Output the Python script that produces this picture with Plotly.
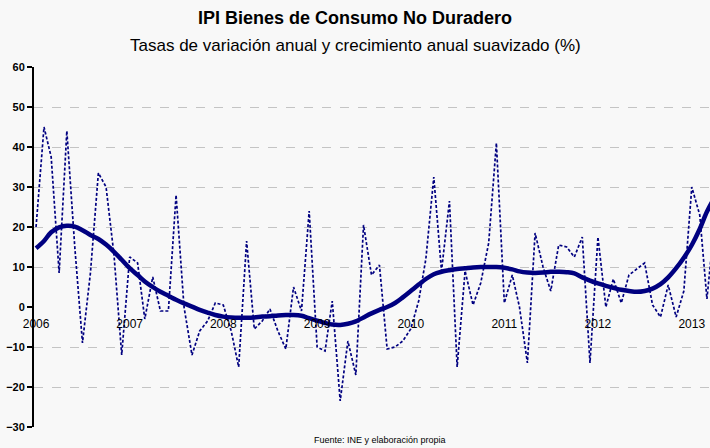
import pandas as pd
import plotly.graph_objects as go

# monthly series, Jan 2006 onwards
start = "2006-01-01"
tasa_anual = [
    20, 45, 37.5, 8.5, 44, 15, -9, 8.5, 33.5, 30, 13, -12,
    12.5, 11, -3, 7.5, -1, -1, 28, 0, -12, -6, -3.5, 1,
    0.5, -6, -15, 16.5, -5.5, -3.5, -0.5, -6, -10.5, 5, -1, 24,
    -10, -11, 1.5, -23.5, -8.5, -17, 20.5, 8, 10.5, -10.5, -10, -8.5,
    -5.5, 1.5, 12, 32.5, 9, 26.5, -15, 9, 0.5, 6, 16, 41,
    1, 8, 0, -14, 18.5, 10, 4, 15.5, 15, 12.5, 17.5, -14,
    17.5, 0, 7, 1, 8, 9.5, 11, 0.5, -2.5, 5.5, -2.5, 4,
    30, 23, 2, 22,
]
suavizado = [
    14.7, 16.5, 18.7, 19.9, 20.3, 20.1, 19.2, 18.0, 17.0, 15.6, 13.8, 11.8,
    9.7, 8.0, 6.4, 5.0, 3.8, 2.8, 1.8, 0.9, 0.1, -0.7, -1.4, -2.0,
    -2.4, -2.6, -2.7, -2.7, -2.6, -2.4, -2.3, -2.1, -2.0, -2.0, -2.2, -2.8,
    -3.4, -4.0, -4.4, -4.5, -4.2, -3.6, -2.6, -1.6, -0.7, 0.0, 1.0, 2.4,
    4.0, 5.6, 7.0, 8.2, 8.8, 9.2, 9.5, 9.7, 9.9, 10.0, 10.0, 10.0,
    9.8, 9.4, 8.9, 8.6, 8.5, 8.6, 8.8, 8.8, 8.7, 8.4, 7.4, 6.6,
    5.9, 5.3, 4.8, 4.3, 4.0, 3.8, 4.0, 4.6, 5.7, 7.4, 9.7, 12.3,
    15.5, 19.5, 23.8, 27.5,
]
y_ticks = [60, 50, 40, 30, 20, 10, 0, -10, -20, -30]
grid_vals = [v for v in y_ticks if v != 0]

fechas = pd.date_range(start, periods=len(tasa_anual), freq="MS")
x_range = ["2005-12-24", "2013-03-13"]
y_range = [-30, 60]
navy = "#000080"
bg = "#f8f8f8"

fig = go.Figure()
fig.add_trace(go.Scatter(
    x=fechas, y=tasa_anual, mode="lines",
    line=dict(color=navy, width=1.7, dash="3px,2px"),
))
fig.add_trace(go.Scatter(
    x=fechas, y=suavizado, mode="lines",
    line=dict(color=navy, width=4.5, shape="spline"),
))
# dummy trace so the grid axis is drawn
fig.add_trace(go.Scatter(x=[fechas[0]], y=[None], yaxis="y2", showlegend=False))

fig.update_layout(
    width=710, height=448,
    margin=dict(l=34, r=0, t=67, b=21),
    paper_bgcolor=bg, plot_bgcolor=bg,
    showlegend=False,
    font=dict(family="Liberation Sans, Arial, sans-serif", color="black"),
    xaxis=dict(
        range=x_range, type="date", dtick="M12", tickformat="%Y",
        anchor="free", position=(0 - y_range[0]) / (y_range[1] - y_range[0]),
        showgrid=False, showline=False, zeroline=False, ticks="",
        ticklabelstandoff=8,
        tickfont=dict(size=12, color="black"), automargin=False,
    ),
    yaxis=dict(
        range=y_range, tickvals=y_ticks, showgrid=False, zeroline=False,
        showline=True, linecolor="black", linewidth=2,
        ticks="outside", ticklen=5, tickcolor="black", tickwidth=2,
        tickfont=dict(size=11, color="black", weight="bold"),
        automargin=False,
    ),
    yaxis2=dict(
        range=y_range, tickvals=grid_vals, overlaying="y",
        showticklabels=False, showgrid=True, gridcolor="#c4c4c4",
        griddash="dash", gridwidth=1, zeroline=False, automargin=False,
    ),
)

# titles placed by pixel row from the top of the page
plot_h = 448 - 67 - 21
def paper_y(px_y):
    return 1 + (67 - px_y) / plot_h

title_x = (355 - 34) / (710 - 34)
fig.add_annotation(text="<b>IPI Bienes de Consumo No Duradero</b>",
                   x=title_x, y=paper_y(18), xref="paper", yref="paper",
                   showarrow=False, yanchor="middle", font=dict(size=18))
fig.add_annotation(text="Tasas de variación anual y crecimiento anual suavizado (%)",
                   x=title_x, y=paper_y(46), xref="paper", yref="paper",
                   showarrow=False, yanchor="middle", font=dict(size=17))
fig.add_annotation(text="Fuente: INE y elaboración propia",
                   x=(380 - 34) / (710 - 34), y=paper_y(440), xref="paper",
                   yref="paper", showarrow=False, yanchor="middle",
                   font=dict(size=9))

# drop the browser's default body margin so the figure fills the window
fig.write_html(
    "out.html",
    config={"displayModeBar": False},
    post_script="document.body.style.margin='0';document.body.style.overflow='hidden';",
)
